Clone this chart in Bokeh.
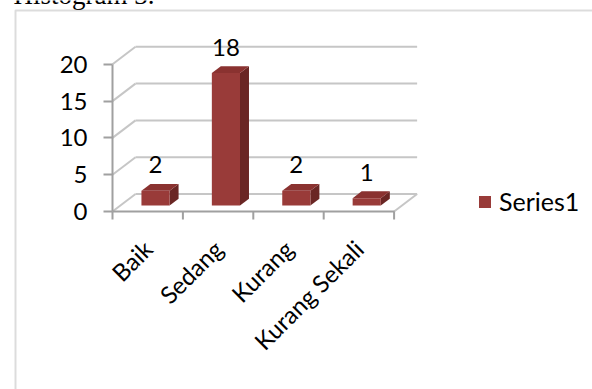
import math
from bokeh.plotting import figure
from bokeh.models import (Range1d, LinearAxis, FixedTicker, Legend, LegendItem,
                          BoxAnnotation, ColumnDataSource)
from bokeh.core.properties import value
from bokeh.embed import file_html
from bokeh.resources import INLINE

# ---------------- data ----------------
title_text = "Histogram 3."
categories = ["Baik", "Sedang", "Kurang", "Kurang Sekali"]
values = [2, 18, 2, 1]
series_name = "Series1"
y_ticks = [0, 5, 10, 15, 20]
y_tick_labels = ["0", "5", "10", "15", "20"]

# ---------------- layout / style ----------------
W, H = 592, 389
PX_CAT = 70.4      # pixels per category
PX_UNIT = 7.36     # pixels per value unit
ORIGIN_X = 112     # pixel position of front-left floor corner
ORIGIN_Y = 211

DEPTH_X = 0.327    # floor depth, in category units
DEPTH_Y = 2.38     # floor depth, in value units
BAR_W = 0.40
F0, F1 = 0.34, 0.73  # bar depth position (fraction of floor depth)

FONT = "Lato"
GRID = "#c6c6c6"
AXIS = "#a0a0a0"
FRONT = "#993b39"
SIDE = "#6a2624"
TOP = "#8a3230"

x_range = Range1d(-ORIGIN_X / PX_CAT, (W - ORIGIN_X) / PX_CAT)
y_range = Range1d(-(H - ORIGIN_Y) / PX_UNIT, ORIGIN_Y / PX_UNIT)


def sx(px):
    return x_range.start + px / PX_CAT


def sy(py):
    return y_range.end - py / PX_UNIT


p = figure(width=W, height=H, x_range=x_range, y_range=y_range,
           x_axis_type=None, y_axis_type=None, toolbar_location=None,
           output_backend="svg", min_border=0)
p.outline_line_color = None
p.background_fill_color = "white"
p.border_fill_color = "white"

n = len(categories)
ymax = y_ticks[-1]

# back wall gridlines (including floor back edge)
p.segment(x0=[DEPTH_X] * len(y_ticks), y0=[t + DEPTH_Y for t in y_ticks],
          x1=[n + DEPTH_X] * len(y_ticks), y1=[t + DEPTH_Y for t in y_ticks],
          line_color=GRID, line_width=2)
# side wall diagonals
p.segment(x0=[0] * len(y_ticks), y0=y_ticks,
          x1=[DEPTH_X] * len(y_ticks), y1=[t + DEPTH_Y for t in y_ticks],
          line_color=GRID, line_width=2)
# floor right edge
p.segment(x0=[n], y0=[0], x1=[n + DEPTH_X], y1=[DEPTH_Y],
          line_color=GRID, line_width=2)

# boundary tick marks on the category axis
TICK = 8 / PX_UNIT
p.segment(x0=list(range(n + 1)), y0=[0] * (n + 1),
          x1=list(range(n + 1)), y1=[-TICK] * (n + 1),
          line_color=AXIS, line_width=2)

# ---------------- bars ----------------
ddx = (F1 - F0) * DEPTH_X
ddy = (F1 - F0) * DEPTH_Y
left = [i + 0.5 - BAR_W / 2 + F0 * DEPTH_X for i in range(n)]
right = [l + BAR_W for l in left]
bottom = [F0 * DEPTH_Y] * n
top = [v + F0 * DEPTH_Y for v in values]

side_xs = [[r, r + ddx, r + ddx, r] for r in right]
side_ys = [[b, b + ddy, t + ddy, t] for b, t in zip(bottom, top)]
top_xs = [[l, r, r + ddx, l + ddx] for l, r in zip(left, right)]
top_ys = [[t, t, t + ddy, t + ddy] for t in top]

p.patches(xs=side_xs, ys=side_ys, fill_color=SIDE, line_color=None)
p.patches(xs=top_xs, ys=top_ys, fill_color=TOP, line_color=None)
front = p.quad(left=left, right=right, bottom=bottom, top=top,
               fill_color=FRONT, line_color=None)

# value labels
lab_src = ColumnDataSource(dict(
    x=[(l + r) / 2 for l, r in zip(left, right)],
    y=[t + ddy for t in top],
    text=[str(v) for v in values]))
p.text(x="x", y="y", text="text", source=lab_src, text_align="center",
       text_baseline="middle", y_offset=-19,
       text_font=value(FONT), text_font_size="24px", text_color="black")

# ---------------- axes ----------------
yaxis = LinearAxis(fixed_location=0, ticker=FixedTicker(ticks=y_ticks),
                   bounds=(0, ymax))
yaxis.major_label_overrides = {t: s for t, s in zip(y_ticks, y_tick_labels)}
yaxis.axis_line_color = AXIS
yaxis.axis_line_width = 2
yaxis.major_tick_line_color = AXIS
yaxis.major_tick_line_width = 2
yaxis.major_tick_out = 9
yaxis.major_tick_in = 0
yaxis.minor_tick_line_color = None
yaxis.major_label_standoff = 16
yaxis.major_label_text_font = FONT
yaxis.major_label_text_font_size = "24px"
yaxis.major_label_text_color = "black"
p.add_layout(yaxis, "left")

xaxis = LinearAxis(fixed_location=0,
                   ticker=FixedTicker(ticks=[i + 0.5 for i in range(n)]),
                   bounds=(0, n))
xaxis.major_label_overrides = {i + 0.5: c for i, c in enumerate(categories)}
xaxis.axis_line_color = AXIS
xaxis.axis_line_width = 2
xaxis.major_tick_line_color = None
xaxis.major_tick_out = 0
xaxis.major_tick_in = 0
xaxis.minor_tick_line_color = None
xaxis.major_label_orientation = math.pi / 4
xaxis.major_label_standoff = 33
xaxis.major_label_text_font = FONT
xaxis.major_label_text_font_size = "24px"
xaxis.major_label_text_color = "black"
p.add_layout(xaxis, "below")

# ---------------- legend ----------------
legend = Legend(items=[LegendItem(label=series_name, renderers=[front])],
                location=(477, 173), orientation="vertical",
                glyph_width=15, glyph_height=15, label_standoff=7,
                padding=0, margin=0, border_line_color=None,
                background_fill_alpha=0,
                label_text_font=FONT, label_text_font_size="25px",
                label_text_color="black")
p.add_layout(legend)

# ---------------- page frame and cut-off caption ----------------
p.add_layout(BoxAnnotation(left=sx(15), top=sy(10), right=sx(W + 40),
                           bottom=sy(H + 40), fill_alpha=0,
                           line_color="#8c8c8c", line_width=2))
p.text(x=[sx(13)], y=[sy(-6)], text=[title_text], text_baseline="middle",
       text_font=value("Liberation Serif"), text_font_size="27px",
       text_color="black")

open("out.html", "w").write(file_html(p, INLINE))
